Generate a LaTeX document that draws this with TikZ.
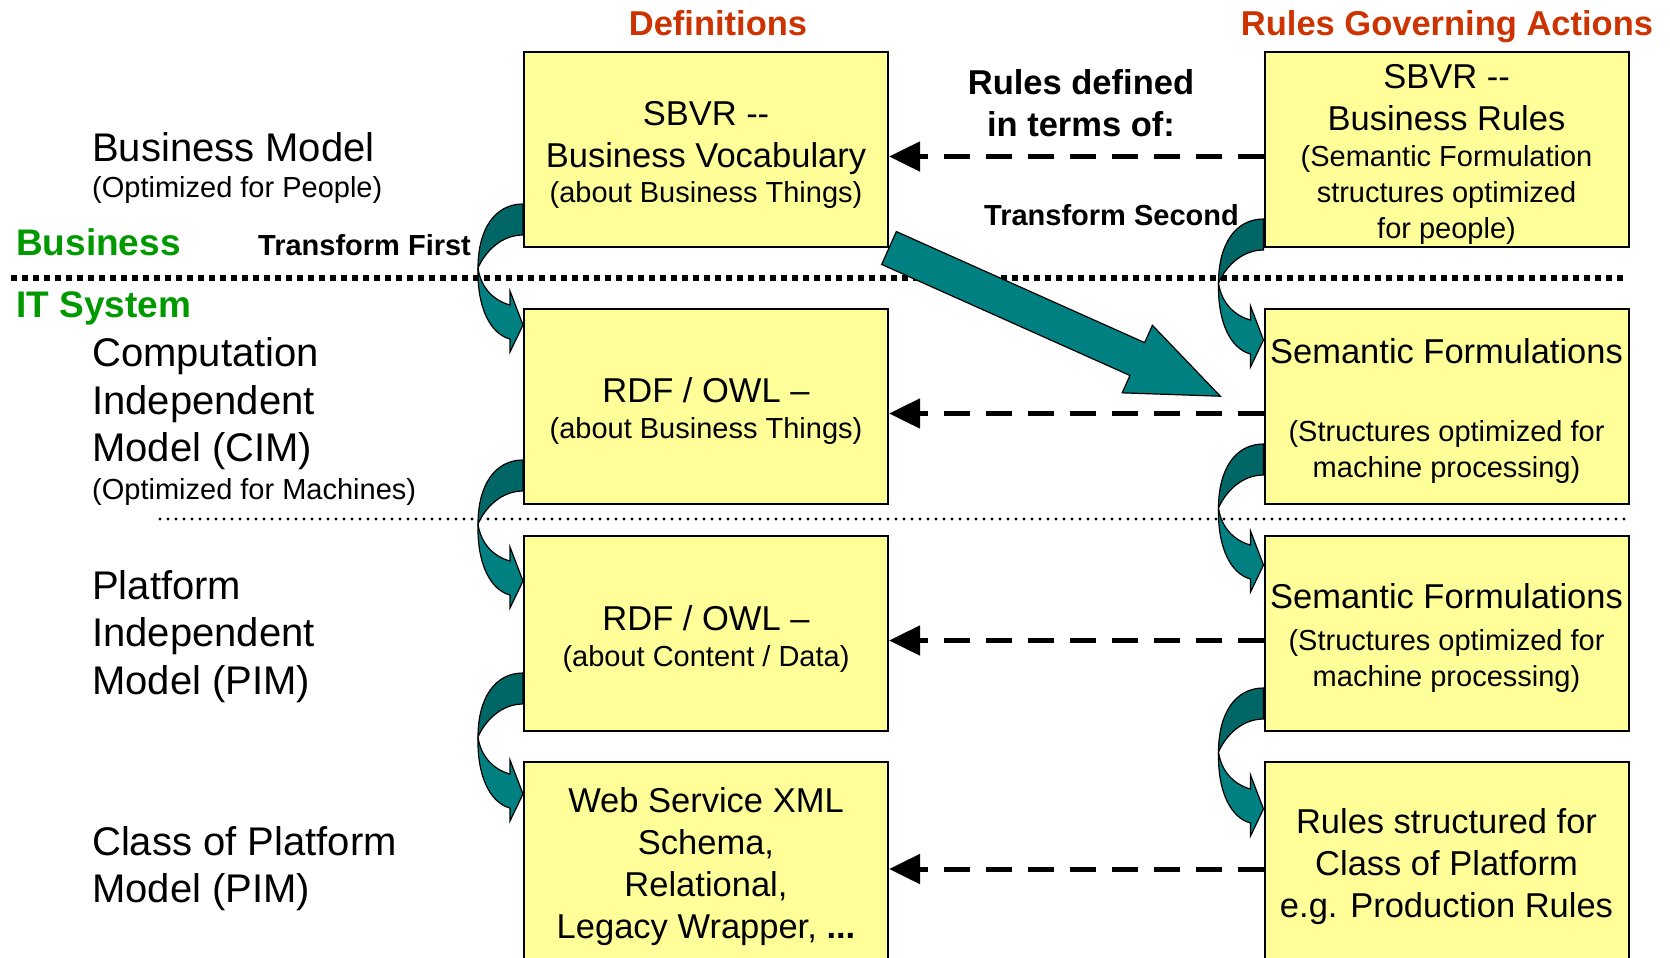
\documentclass[tikz,border=0pt]{standalone}
\usepackage{fontspec}
\setmainfont{Liberation Sans}
\usetikzlibrary{arrows.meta}

\definecolor{boxyellow}{RGB}{255,255,153}
\definecolor{headred}{RGB}{204,51,0}
\definecolor{layergreen}{RGB}{0,153,0}
\definecolor{tealfront}{RGB}{0,128,128}
\definecolor{tealback}{RGB}{0,102,102}

\newcommand{\fs}[2]{\fontsize{#1}{#2}\selectfont}
\newcommand{\sm}{\fs{29}{34}}
\newcommand{\topstrut}{\rule{0pt}{35pt}}
\newcommand{\uturn}[2]{
  \begin{scope}[shift={(#1)}, shift={(0,#2)}, line width=1.2pt]
    \filldraw[fill=tealback] (0,0) .. controls (-28,0) and (-45,25) .. (-45,64)
      .. controls (-38,48) and (-22,31) .. (0,31) -- cycle;
    \filldraw[fill=tealfront] (-45,64) .. controls (-46,105) and (-32,130) .. (-13,135)
      -- (-13,148) -- (0,121) -- (-13,87) -- (-13,101)
      .. controls (-28,97) and (-42,85) .. (-45,64) -- cycle;
  \end{scope}
}

\begin{document}
\begin{tikzpicture}[x=1pt,y=-1pt,
  defbox/.style={draw, line width=2pt, fill=boxyellow, minimum width=364pt, minimum height=195pt, inner sep=2pt, align=center, font=\fs{34.5}{42}},
  colhead/.style={font=\bfseries\fs{34.5}{42}, text=headred, inner sep=0pt, anchor=base},
  layer/.style={font=\bfseries\fs{37}{42}, text=layergreen, inner sep=0pt, anchor=base west},
  model/.style={font=\fs{40}{47.5}, align=left, inner sep=0pt, anchor=north west},
  note/.style={font=\bfseries\fs{29}{34}, inner sep=0pt, anchor=base west},
  refers/.style={line width=5pt, dash pattern=on 26pt off 16pt, -{Triangle[length=31pt,width=29pt]}},
  bigdots/.style={line width=6pt, dash pattern=on 6pt off 5pt},
  smalldots/.style={line width=3.1pt, line cap=round, dash pattern=on 0pt off 8pt}]
  \useasboundingbox (0,0) rectangle (1670,958);
  \clip (0,0) rectangle (1670,958);

  \draw[bigdots] (11,278) -- (1627,278);
  \draw[smalldots] (160,519) -- (1627,519);

  \node[colhead] (defhead) at (718,36) {Definitions};
  \node[colhead] (rulehead) at (1447,36) {Rules Governing Actions};

  \node[defbox] (def1) at (706,149.5) {\topstrut SBVR -{}-\\Business Vocabulary\\[-7pt]\sm(about Business Things)};
  \node[defbox] (def2) at (706,406.5) {\topstrut RDF / OWL --\\[-6pt]\sm(about Business Things)};
  \node[defbox] (def3) at (706,633.5) {\topstrut RDF / OWL --\\[-6pt]\sm(about Content / Data)};
  \node[defbox, minimum height=200pt] (def4) at (706,862) {\topstrut Web Service XML\\Schema,\\Relational,\\Legacy Wrapper, \textbf{...}};

  \node[defbox] (rule1) at (1446.5,149.5) {\topstrut SBVR -{}-\\Business Rules\\[-6pt]\sm(Semantic Formulation\\[-6pt]\sm structures optimized\\[-6pt]\sm for people)};
  \node[defbox] (rule2) at (1446.5,406.5) {\topstrut Semantic Formulations\\ \\[-6pt]\sm(Structures optimized for\\[-6pt]\sm machine processing)};
  \node[defbox] (rule3) at (1446.5,633.5) {\topstrut Semantic Formulations\\\sm(Structures optimized for\\[-6pt]\sm machine processing)};
  \node[defbox, minimum height=200pt] (rule4) at (1446.5,862) {\topstrut Rules structured for\\Class of Platform\\e.g. Production Rules};

  \node[layer] (biz) at (16,255) {Business};
  \node[layer] (its) at (16,317) {IT System};
  \node[note] (tfirst) at (258,255) {Transform First};
  \node[note] (tsecond) at (984,225) {Transform Second};
  \node[font=\bfseries\fs{34.5}{42}, align=center, inner sep=0pt, anchor=north] (defnote) at (1081,69) {Rules defined\\in terms of:};

  \node[model] (bm) at (92,132.4) {Business Model\\[-11.5pt]\sm(Optimized for People)};
  \node[model] (cim) at (92,337.4) {Computation\\Independent\\Model (CIM)\\[-9.5pt]\sm(Optimized for Machines)};
  \node[model] (pim) at (92,570) {Platform\\Independent\\Model (PIM)};
  \node[model] (cpm) at (92,826) {Class of Platform\\Model (PIM)};

  \foreach \r in {1,...,4}
    \draw[refers] ([yshift=-7pt]rule\r.west) -- ([yshift=-7pt]def\r.east);

  \uturn{def1.south west}{-44}
  \uturn{def2.south west}{-45}
  \uturn{def3.south west}{-59}
  \uturn{rule1.south west}{-29}
  \uturn{rule2.south west}{-61}
  \uturn{rule3.south west}{-44}

  \begin{scope}[shift={(def1.south east)}, rotate=-24.1]
    \filldraw[fill=tealfront, line width=1.2pt] (0,-18) -- (272,-18) -- (272,-37) -- (363,0)
      -- (272,37) -- (272,18) -- (0,18) -- cycle;
  \end{scope}
\end{tikzpicture}
\end{document}
